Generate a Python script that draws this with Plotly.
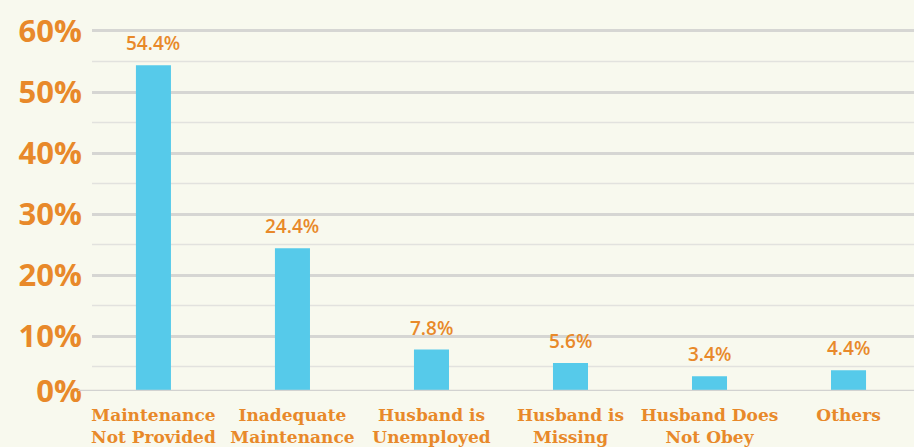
import plotly.graph_objects as go

categories = ["Maintenance<br>Not Provided", "Inadequate<br>Maintenance", "Husband is<br>Unemployed",
              "Husband is<br>Missing", "Husband Does<br>Not Obey", "Others"]
values = [54.4, 24.4, 7.8, 5.6, 3.4, 4.4]
tick_vals = [1, 10, 20, 30, 40, 50, 60]
tick_text = ["0%", "10%", "20%", "30%", "40%", "50%", "60%"]
minor_vals = [5, 15, 25, 35, 45, 55]

ORANGE = "#E8892A"
BLUE = "#56CAEA"
BG = "#F8F9EE"

x = list(range(len(categories)))

fig = go.Figure()
fig.add_trace(go.Bar(x=x, y=values, width=0.252, marker=dict(color=BLUE, line=dict(width=0)),
                     hoverinfo="skip"))

for xi, v in zip(x, values):
    fig.add_annotation(x=xi, y=v, text=f"{v}%", showarrow=False, yanchor="bottom", yshift=7,
                       font=dict(family="Open Sans", size=19, color=ORANGE, weight=600))

# minor gridlines
for m in minor_vals:
    fig.add_shape(type="line", xref="paper", x0=0, x1=1, yref="y", y0=m, y1=m,
                  line=dict(color="#E2E2DE", width=1.5), layer="below")
# baseline
fig.add_shape(type="line", xref="paper", x0=-0.017, x1=1, yref="y", y0=1, y1=1,
              line=dict(color="#D2D2D0", width=2.5), layer="above")

fig.update_layout(
    width=914, height=447,
    margin=dict(l=92, r=0, t=20, b=56),
    paper_bgcolor=BG, plot_bgcolor=BG,
    showlegend=False,
    xaxis=dict(range=[-0.442, 5.471], tickvals=x, ticktext=categories, showgrid=False,
               zeroline=False, showline=False, ticks="", ticklabelstandoff=12,
               tickfont=dict(family="DejaVu Serif", size=17, color=ORANGE, weight="bold")),
    yaxis=dict(range=[1, 61.8], tickvals=tick_vals, ticktext=tick_text, showgrid=True,
               gridcolor="#D6D6D3", gridwidth=2.5, zeroline=False, showline=False, ticks="",
               ticklabelstandoff=9,
               tickfont=dict(family="Open Sans", size=31, color=ORANGE, weight="bold")),
)

fig.write_html("out.html", config={"displayModeBar": False},
               post_script="document.body.style.margin='0';document.body.style.background='" + BG + "';")
